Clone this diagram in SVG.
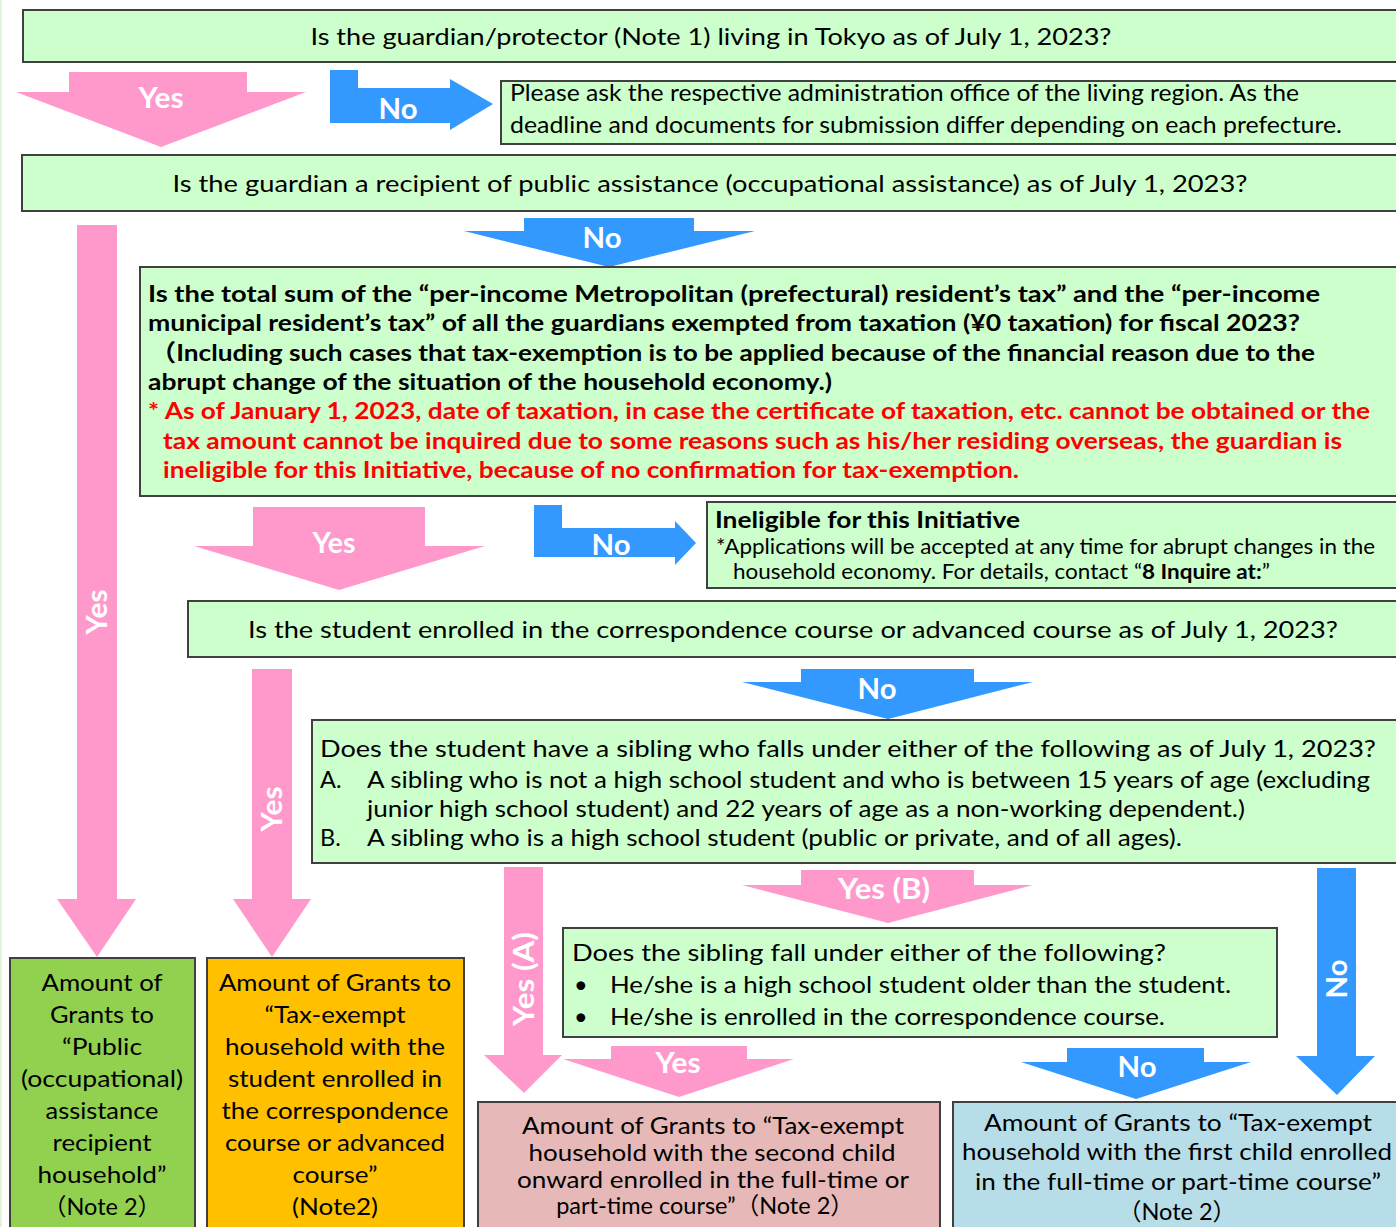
<svg xmlns="http://www.w3.org/2000/svg" width="1396" height="1227" viewBox="0 0 1396 1227">
<defs>
<style>
.box{fill:#CCFFCC;stroke:#404040;stroke-width:2}
.t{font-family:'Lato','Noto Sans CJK JP',sans-serif;font-size:23.5px;fill:#000}
.tb{font-family:'Lato','Noto Sans CJK JP',sans-serif;font-size:23.5px;font-weight:bold;fill:#000}
.tr{font-family:'Lato','Noto Sans CJK JP',sans-serif;font-size:23.5px;font-weight:bold;fill:#FF0000}
.ts{font-family:'Lato','Noto Sans CJK JP',sans-serif;font-size:20.5px;fill:#000}
.c{text-anchor:middle}
.pink{fill:#FF99CC}
.blue{fill:#3399FF}
.lbl{font-family:'Lato','Noto Sans CJK JP',sans-serif;font-size:28px;font-weight:bold;fill:#FFFFFF;text-anchor:middle}
</style>
</defs>
<rect width="1396" height="1227" fill="#FFFFFF"/>
<line x1="1" y1="0" x2="1" y2="1227" stroke="#E2F5D8" stroke-width="2"/>

<g id="connectors">
<polygon class="pink" points="69,72 247,72 247,92 306,92 161,147 16,92 69,92"/>
<text class="lbl" x="161" y="108" textLength="45" lengthAdjust="spacingAndGlyphs">Yes</text>
<polygon class="blue" points="330,70 358,70 358,88 450,88 450,79 493,104 450,130 450,123 330,123"/>
<text class="lbl" x="398" y="119" textLength="39" lengthAdjust="spacingAndGlyphs">No</text>
<polygon class="blue" points="524,218 694,218 694,231 755,231 609,267 464,231 524,231"/>
<text class="lbl" x="602" y="248" textLength="39" lengthAdjust="spacingAndGlyphs">No</text>
<polygon class="pink" points="77,225 117,225 117,899 136,899 97,957 57,899 77,899"/>
<text class="lbl" transform="translate(97,612) rotate(-90)" x="0" y="10" textLength="45" lengthAdjust="spacingAndGlyphs">Yes</text>
<polygon class="pink" points="253,507 425,507 425,546 485,546 339,590 194,546 253,546"/>
<text class="lbl" x="334" y="553" textLength="43" lengthAdjust="spacingAndGlyphs">Yes</text>
<polygon class="blue" points="534,505 562,505 562,528 675,528 675,521 696,543 675,565 675,557 534,557"/>
<text class="lbl" x="611" y="555" textLength="39" lengthAdjust="spacingAndGlyphs">No</text>
<polygon class="pink" points="252,669 292,669 292,899 311,899 272,957 233,899 252,899"/>
<text class="lbl" transform="translate(272,809) rotate(-90)" x="0" y="10" textLength="45" lengthAdjust="spacingAndGlyphs">Yes</text>
<polygon class="blue" points="801,669 974,669 974,682 1033,682 888,719 742,682 801,682"/>
<text class="lbl" x="877" y="699" textLength="39" lengthAdjust="spacingAndGlyphs">No</text>
<polygon class="pink" points="504,867 543,867 543,1055 562,1055 524,1093 484,1055 504,1055"/>
<text class="lbl" transform="translate(524,979) rotate(-90)" x="0" y="10" textLength="94" lengthAdjust="spacingAndGlyphs">Yes (A)</text>
<polygon class="pink" points="801,870 974,870 974,885 1033,885 888,923 742,885 801,885"/>
<text class="lbl" x="884" y="899" textLength="92" lengthAdjust="spacingAndGlyphs">Yes (B)</text>
<polygon class="blue" points="1317,868 1356,868 1356,1056 1375,1056 1337,1095 1296,1056 1317,1056"/>
<text class="lbl" transform="translate(1337,979) rotate(-90)" x="0" y="10" textLength="39" lengthAdjust="spacingAndGlyphs">No</text>
<polygon class="pink" points="611,1046 747,1046 747,1059 794,1059 679,1097 563,1059 611,1059"/>
<text class="lbl" x="678" y="1073" textLength="45" lengthAdjust="spacingAndGlyphs">Yes</text>
<polygon class="blue" points="1067,1048 1204,1048 1204,1062 1251,1062 1136,1099 1021,1062 1067,1062"/>
<text class="lbl" x="1137" y="1077" textLength="39" lengthAdjust="spacingAndGlyphs">No</text>
</g>

<g id="q-tokyo">
<rect class="box" x="23" y="10" width="1380" height="52"/>
<text class="t c" x="711" y="45" textLength="801" lengthAdjust="spacingAndGlyphs">Is the guardian/protector (Note 1) living in Tokyo as of July 1, 2023?</text>
</g>

<g id="ask-office">
<rect class="box" x="501" y="81" width="902" height="63"/>
<text class="t" x="510" y="101" textLength="789" lengthAdjust="spacingAndGlyphs">Please ask the respective administration office of the living region. As the</text>
<text class="t" x="510" y="133" textLength="832" lengthAdjust="spacingAndGlyphs">deadline and documents for submission differ depending on each prefecture.</text>
</g>

<g id="q-assistance">
<rect class="box" x="22" y="155" width="1381" height="56"/>
<text class="t c" x="710" y="192" textLength="1075" lengthAdjust="spacingAndGlyphs">Is the guardian a recipient of public assistance (occupational assistance) as of July 1, 2023?</text>
</g>

<g id="q-tax">
<rect class="box" x="140" y="267" width="1263" height="229"/>
<text class="tb" x="148" y="302" textLength="1172" lengthAdjust="spacingAndGlyphs">Is the total sum of the  “per-income Metropolitan (prefectural) resident’s tax”  and the  “per-income</text>
<text class="tb" x="148" y="331" textLength="1152" lengthAdjust="spacingAndGlyphs">municipal resident’s tax”  of all the guardians exempted from taxation (¥0 taxation) for fiscal 2023?</text>
<text class="tb" x="150" y="361" textLength="1165" lengthAdjust="spacingAndGlyphs">（Including such cases that tax-exemption is to be applied because of the financial reason due to the</text>
<text class="tb" x="148" y="390" textLength="684" lengthAdjust="spacingAndGlyphs">abrupt change of the situation of the household economy.)</text>
<text class="tr" x="148" y="419" textLength="1222" lengthAdjust="spacingAndGlyphs">* As of January 1, 2023, date of taxation, in case the certificate of taxation, etc. cannot be obtained or the</text>
<text class="tr" x="163" y="449" textLength="1179" lengthAdjust="spacingAndGlyphs">tax amount cannot be inquired due to some reasons such as his/her residing overseas, the guardian is</text>
<text class="tr" x="163" y="478" textLength="856" lengthAdjust="spacingAndGlyphs">ineligible for this Initiative, because of no confirmation for tax-exemption.</text>
</g>

<g id="ineligible">
<rect class="box" x="707" y="502" width="696" height="86"/>
<text class="tb" x="715" y="528" textLength="305" lengthAdjust="spacingAndGlyphs">Ineligible for this Initiative</text>
<text class="ts" x="716" y="554" textLength="659" lengthAdjust="spacingAndGlyphs">*Applications will be accepted at any time for abrupt changes in the</text>
<text class="ts" x="733" y="579" textLength="537" lengthAdjust="spacingAndGlyphs">household economy. For details, contact “<tspan font-weight="bold">8 Inquire at:</tspan>”</text>
</g>

<g id="q-course">
<rect class="box" x="188" y="601" width="1215" height="56"/>
<text class="t c" x="793" y="638" textLength="1090" lengthAdjust="spacingAndGlyphs">Is the student enrolled in the correspondence course or advanced course as of July 1, 2023?</text>
</g>

<g id="q-sibling">
<rect class="box" x="312" y="720" width="1091" height="143"/>
<text class="t" x="320" y="757" textLength="1056" lengthAdjust="spacingAndGlyphs">Does the student have a sibling who falls under either of the following as of July 1, 2023?</text>
<text class="t" x="320" y="788">A.</text>
<text class="t" x="367" y="788" textLength="1003" lengthAdjust="spacingAndGlyphs">A sibling who is not a high school student and who is between 15 years of age (excluding</text>
<text class="t" x="367" y="817" textLength="878" lengthAdjust="spacingAndGlyphs">junior high school student) and 22 years of age as a non-working dependent.)</text>
<text class="t" x="320" y="846">B.</text>
<text class="t" x="367" y="846" textLength="815" lengthAdjust="spacingAndGlyphs">A sibling who is a high school student (public or private, and of all ages).</text>
</g>

<g id="q-sibling-detail">
<rect class="box" x="563" y="928" width="714" height="109"/>
<text class="t" x="572" y="961" textLength="594" lengthAdjust="spacingAndGlyphs">Does the sibling fall under either of the following?</text>
<text class="t" x="574" y="993">•</text>
<text class="t" x="610" y="993" textLength="621" lengthAdjust="spacingAndGlyphs">He/she is a high school student older than the student.</text>
<text class="t" x="574" y="1025">•</text>
<text class="t" x="610" y="1025" textLength="555" lengthAdjust="spacingAndGlyphs">He/she is enrolled in the correspondence course.</text>
</g>

<g id="grant-public">
<rect x="10" y="958" width="185" height="280" fill="#92D050" stroke="#404040" stroke-width="2"/>
<text class="t c" x="102" y="991" textLength="121" lengthAdjust="spacingAndGlyphs">Amount of</text>
<text class="t c" x="102" y="1023" textLength="104" lengthAdjust="spacingAndGlyphs">Grants to</text>
<text class="t c" x="102" y="1055" textLength="80" lengthAdjust="spacingAndGlyphs">“Public</text>
<text class="t c" x="102" y="1087" textLength="162" lengthAdjust="spacingAndGlyphs">(occupational)</text>
<text class="t c" x="102" y="1119" textLength="113" lengthAdjust="spacingAndGlyphs">assistance</text>
<text class="t c" x="102" y="1151" textLength="99" lengthAdjust="spacingAndGlyphs">recipient</text>
<text class="t c" x="102" y="1183" textLength="129" lengthAdjust="spacingAndGlyphs">household”</text>
<text class="t c" x="102" y="1215">（Note 2）</text>
</g>

<g id="grant-correspondence">
<rect x="207" y="958" width="257" height="280" fill="#FFC000" stroke="#404040" stroke-width="2"/>
<text class="t c" x="335" y="991" textLength="232" lengthAdjust="spacingAndGlyphs">Amount of Grants to</text>
<text class="t c" x="335" y="1023" textLength="141" lengthAdjust="spacingAndGlyphs">“Tax-exempt</text>
<text class="t c" x="335" y="1055" textLength="220" lengthAdjust="spacingAndGlyphs">household with the</text>
<text class="t c" x="335" y="1087" textLength="214" lengthAdjust="spacingAndGlyphs">student enrolled in</text>
<text class="t c" x="335" y="1119" textLength="227" lengthAdjust="spacingAndGlyphs">the correspondence</text>
<text class="t c" x="335" y="1151" textLength="220" lengthAdjust="spacingAndGlyphs">course or advanced</text>
<text class="t c" x="335" y="1183" textLength="85" lengthAdjust="spacingAndGlyphs">course”</text>
<text class="t c" x="335" y="1215" textLength="86" lengthAdjust="spacingAndGlyphs">(Note2)</text>
</g>

<g id="grant-second-child">
<rect x="478" y="1102" width="462" height="136" fill="#E6B8B7" stroke="#404040" stroke-width="2"/>
<text class="t c" x="713" y="1134" textLength="382" lengthAdjust="spacingAndGlyphs">Amount of Grants to “Tax-exempt</text>
<text class="t c" x="712" y="1161" textLength="367" lengthAdjust="spacingAndGlyphs">household with the second child</text>
<text class="t c" x="713" y="1188" textLength="392" lengthAdjust="spacingAndGlyphs">onward enrolled in the full-time or</text>
<text class="t c" x="705" y="1214">part-time course”（Note 2）</text>
</g>

<g id="grant-first-child">
<rect x="953" y="1102" width="450" height="136" fill="#B7DEE8" stroke="#404040" stroke-width="2"/>
<text class="t c" x="1178" y="1131" textLength="388" lengthAdjust="spacingAndGlyphs">Amount of Grants to  “Tax-exempt</text>
<text class="t c" x="1177" y="1160" textLength="430" lengthAdjust="spacingAndGlyphs">household with the first child enrolled</text>
<text class="t c" x="1178" y="1190" textLength="406" lengthAdjust="spacingAndGlyphs">in the full-time or part-time course”</text>
<text class="t c" x="1177" y="1220">（Note 2）</text>
</g>
</svg>
